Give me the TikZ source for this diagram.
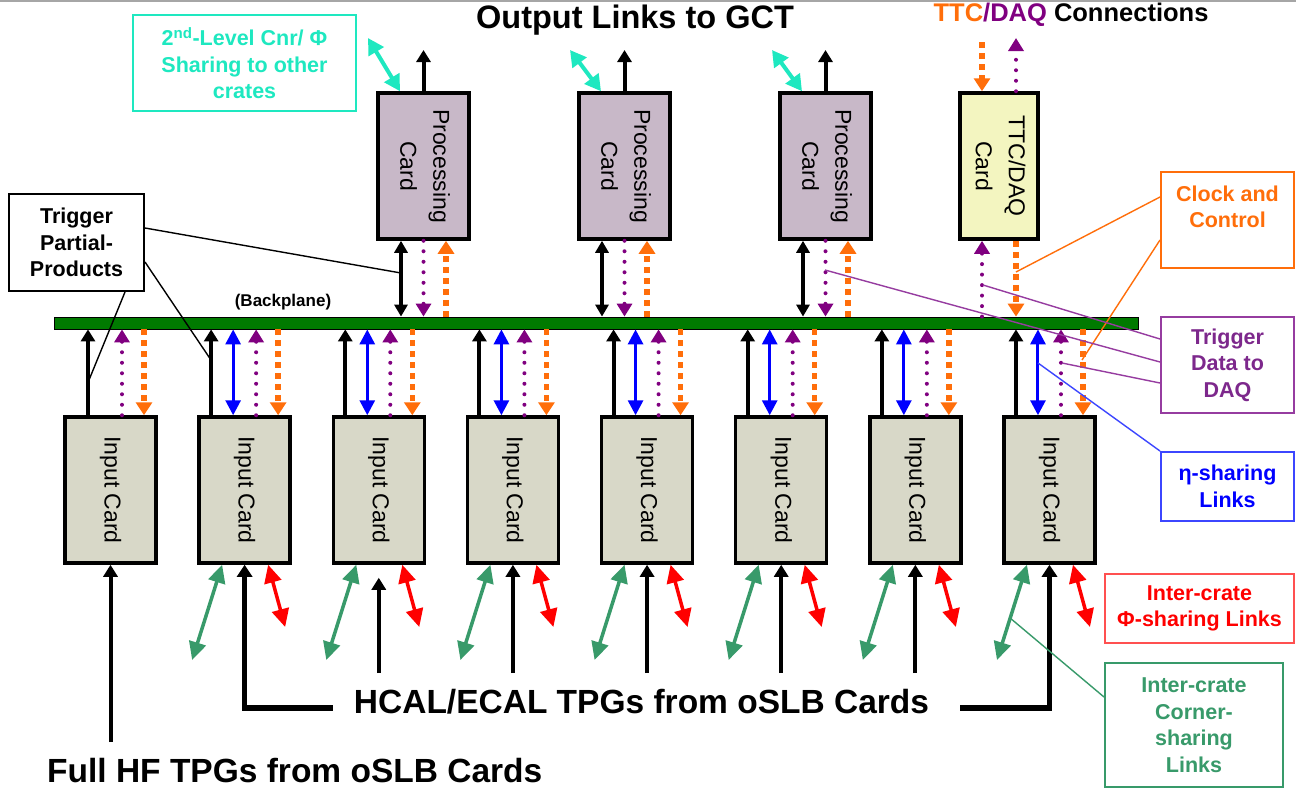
\documentclass[tikz,border=0pt]{standalone}
\usepackage{fontspec}
\setmainfont{Liberation Sans}
\usetikzlibrary{arrows.meta,calc}
\definecolor{bpgreen}{RGB}{0,122,0}
\definecolor{icfill}{RGB}{216,216,200}
\definecolor{pcfill}{RGB}{200,184,200}
\definecolor{ttcfill}{RGB}{243,245,192}
\definecolor{cyaA}{RGB}{30,232,192}
\definecolor{orgA}{RGB}{255,110,10}
\definecolor{purA}{RGB}{128,0,128}
\definecolor{tdaqA}{RGB}{125,40,140}
\definecolor{tdaqB}{RGB}{150,60,160}
\definecolor{bluA}{RGB}{0,0,255}
\definecolor{bluB}{RGB}{60,70,255}
\definecolor{redA}{RGB}{255,0,0}
\definecolor{redB}{RGB}{255,80,80}
\definecolor{grnA}{RGB}{56,154,106}
\newcommand\fsz[2]{\fontsize{#1}{#2}\selectfont}
\begin{document}
\begin{tikzpicture}[x=1pt,y=-1pt,
 card/.style={draw=black,line width=3.5pt,inner sep=0pt,minimum height=146pt,font=\fsz{23}{33}},
 incard/.style={card,fill=icfill,minimum width=91pt},
 pcard/.style={card,fill=pcfill,minimum width=91pt},
 tcard/.style={card,fill=ttcfill,minimum width=78pt},
 lbox/.style={draw,line width=2pt,inner sep=0pt,align=center,font=\bfseries\fsz{21.5}{26.5}},
 conn/.style={line width=1.4pt},
 blkup/.style={line width=4pt,-{Triangle[width=14pt,length=12pt]}},
 hcalarr/.style={line width=5.5pt,line join=miter,-{Triangle[width=15pt,length=12pt]}},
 blkdbl/.style={line width=3.5pt,{Triangle[width=13pt,length=12pt]}-{Triangle[width=13pt,length=12pt]}},
 purdot/.style={purA,line width=4pt,dash pattern=on 0pt off 10.5pt,line cap=round,-{Triangle[width=15pt,length=13pt]}},
 orgdash/.style={orgA,line width=5.5pt,dash pattern=on 6pt off 5pt,-{Triangle[width=16pt,length=13pt]}},
 bludbl/.style={bluA,line width=3pt,{Triangle[width=15pt,length=15pt]}-{Triangle[width=15pt,length=15pt]}},
 grndbl/.style={grnA,line width=3.5pt,{Triangle[width=17pt,length=18pt]}-{Triangle[width=17pt,length=18pt]}},
 reddbl/.style={redA,line width=3.5pt,{Triangle[width=17pt,length=18pt]}-{Triangle[width=17pt,length=18pt]}},
 cyadbl/.style={cyaA,line width=4pt,{Triangle[width=17pt,length=16pt]}-{Triangle[width=17pt,length=16pt]}},
]
\useasboundingbox (0,0) rectangle (1296,793);
\fill[white] (0,0) rectangle (1296,793);
\draw[black!35,line width=2pt] (0,1) -- (1296,1);

% reference levels
\coordinate (ytop) at (0,50);
\coordinate (yttc1) at (0,42);
\coordinate (yttc2) at (0,38);
\coordinate (yhf) at (0,742);
\coordinate (yhcal) at (0,708);
\coordinate (yshort) at (0,673);
\coordinate (ygrn) at (0,660);
\coordinate (yred) at (0,627);
\coordinate (cyE1) at (368,38);
\coordinate (cyE2) at (570,50);
\coordinate (cyE3) at (772,50);

% backplane
\node[draw=black,line width=0.8pt,fill=bpgreen,minimum width=1084pt,minimum height=12pt,inner sep=0pt] (bp) at (596,323) {};
\node[font=\bfseries\fsz{17}{20},inner sep=0pt] (bpl) at (283,302) {(Backplane)};

% titles
\node[font=\bfseries\fsz{32.5}{36},inner sep=0pt] (ttl) at (635,20) {Output Links to GCT};
\node[font=\bfseries\fsz{25.5}{30},inner sep=0pt] (ttl2) at (1071,15) {\textcolor{orgA}{TTC}\textcolor{purA}{/DAQ} Connections};

% input cards
\foreach \i in {1,...,8}{
  \node[incard] (ic\i) at ({110.5+134.14*(\i-1)},490) {\rotatebox{-90}{Input Card}};
}
% processing cards
\foreach \j/\x in {1/423.5,2/624.5,3/825.5}{
  \node[pcard] (pc\j) at (\x,166) {\rotatebox{-90}{\begin{tabular}{@{}c@{}}Processing\\Card\end{tabular}}};
}
\node[tcard] (ttc) at (999,166) {\rotatebox{-90}{\begin{tabular}{@{}c@{}}TTC/DAQ\\Card\end{tabular}}};

% processing card arrows
\foreach \j/\e in {1/cyE1,2/cyE2,3/cyE3}{
  \draw[cyadbl] ([xshift=23.75pt]pc\j.north west) -- (\e);
  \draw[blkup] (pc\j.north) -- (pc\j.north |- ytop);
  \draw[blkdbl] ([xshift=24.75pt]pc\j.south west) -- ([xshift=24.75pt]pc\j.south west |- bp.north);
  \draw[purdot] (pc\j.south) -- (pc\j.south |- bp.north);
  \draw[orgdash] ([xshift=69.75pt]pc\j.south west |- bp.north) -- ([xshift=69.75pt]pc\j.south west);
}
% TTC arrows
\draw[orgdash] ([xshift=23.75pt]ttc.north west |- yttc1) -- ([xshift=23.75pt]ttc.north west);
\draw[purdot] ([xshift=57.75pt]ttc.north west) -- ([xshift=57.75pt]ttc.north west |- yttc2);
\draw[purdot] ([xshift=23.75pt]ttc.south west |- bp.north) -- ([xshift=23.75pt]ttc.south west);
\draw[orgdash] ([xshift=57.75pt]ttc.south west) -- ([xshift=57.75pt]ttc.south west |- bp.north);

% input card arrows (top)
\draw[blkup] ([xshift=24.75pt]ic1.north west) -- ([xshift=24.75pt]ic1.north west |- bp.south);
\foreach \i in {2,...,8}{
  \draw[blkup] ([xshift=13.75pt]ic\i.north west) -- ([xshift=13.75pt]ic\i.north west |- bp.south);
  \draw[bludbl] ([xshift=35.75pt]ic\i.north west) -- ([xshift=35.75pt]ic\i.north west |- bp.south);
  \draw[grndbl] ([xshift=24.75pt]ic\i.south west) -- ([xshift=-5.25pt]ic\i.south west |- ygrn);
  \draw[reddbl] ([xshift=70.75pt]ic\i.south west) -- ([xshift=87.75pt]ic\i.south west |- yred);
}
\foreach \i in {1,...,8}{
  \draw[purdot] ([xshift=58.75pt]ic\i.north west) -- ([xshift=58.75pt]ic\i.north west |- bp.south);
  \draw[orgdash] ([xshift=80.75pt]ic\i.north west |- bp.south) -- ([xshift=80.75pt]ic\i.north west);
}
% input card arrows (bottom)
\draw[blkup] (ic1.south |- yhf) -- (ic1.south);
\draw[blkup] (ic3.south |- yshort) -- ([yshift=-13pt]ic3.south);
\foreach \i in {4,...,7}{
  \draw[blkup] (ic\i.south |- yshort) -- (ic\i.south);
}

% bottom texts
\node[font=\bfseries\fsz{33.5}{38},anchor=base,inner sep=0pt] (hcal) at (641.5,713) {HCAL/ECAL TPGs from oSLB Cards};
\node[font=\bfseries\fsz{33.5}{38},anchor=base west,inner sep=0pt] (hf) at (47,782) {Full HF TPGs from oSLB Cards};
\draw[hcalarr] ([xshift=-21pt]hcal.west |- yhcal) -| (ic2.south);
\draw[hcalarr] ([xshift=31pt]hcal.east |- yhcal) -| (ic8.south);

% label boxes
\node[lbox,draw=cyaA,text=cyaA,minimum width=223pt,minimum height=96pt] (cyb) at (244.5,63) {2\textsuperscript{nd}-Level Cnr/ Φ\\Sharing to other\\crates};
\node[lbox,draw=black,minimum width=135pt,minimum height=97pt] (tpp) at (76.5,242.5) {Trigger\\Partial-\\Products};
\node[lbox,draw=orgA,text=orgA,minimum width=133pt,minimum height=96pt] (cb) at (1227.5,220) {Clock and\\Control\\\mbox{}};
\node[lbox,draw=tdaqB,text=tdaqA,minimum width=133pt,minimum height=96pt] (td) at (1227.5,365) {Trigger\\Data to\\DAQ};
\node[lbox,draw=bluB,text=bluA,minimum width=133pt,minimum height=69pt] (eb) at (1227.5,486.5) {η-sharing\\Links};
\node[lbox,draw=redB,text=redA,line width=1.5pt,minimum width=189pt,minimum height=69pt] (rb) at (1199.5,608.5) {Inter-crate\\Φ-sharing Links};
\node[lbox,draw=grnA,text=grnA,minimum width=178pt,minimum height=124pt] (gb) at (1194,725) {Inter-crate\\Corner-\\sharing\\Links};

% connector end points
\coordinate (kt1) at (401,273);
\coordinate (kt2) at (89,380);
\coordinate (kt3) at (211,360);
\coordinate (kc1) at (1016,272);
\coordinate (kc2) at (1082,360);
\coordinate (kd1) at (983,285);
\coordinate (kd2) at (825,270);
\coordinate (kd3) at (1062,363);
\coordinate (ke) at (1038,363);
\coordinate (kg) at ($([xshift=24.75pt]ic8.south west)!0.56!([xshift=-5.25pt]ic8.south west |- ygrn)$);

\draw[conn] ([yshift=14.5pt]tpp.east) -- (kt1);
\draw[conn] ([xshift=48.5pt]tpp.south) -- (kt2);
\draw[conn] ([yshift=-19.5pt]tpp.east) -- (kt3);
\draw[conn,orgA] ([yshift=23pt]cb.west) -- (kc1);
\draw[conn,orgA] ([yshift=-20pt]cb.west) -- (kc2);
\draw[conn,tdaqB] ([yshift=26pt]td.west) -- (kd1);
\draw[conn,tdaqB] ([yshift=3pt]td.west) -- (kd2);
\draw[conn,tdaqB] ([yshift=-18pt]td.west) -- (kd3);
\draw[conn,bluB] (eb.north west) -- (ke);
\draw[conn,grnA] ([yshift=28pt]gb.west) -- (kg);
\end{tikzpicture}
\end{document}
